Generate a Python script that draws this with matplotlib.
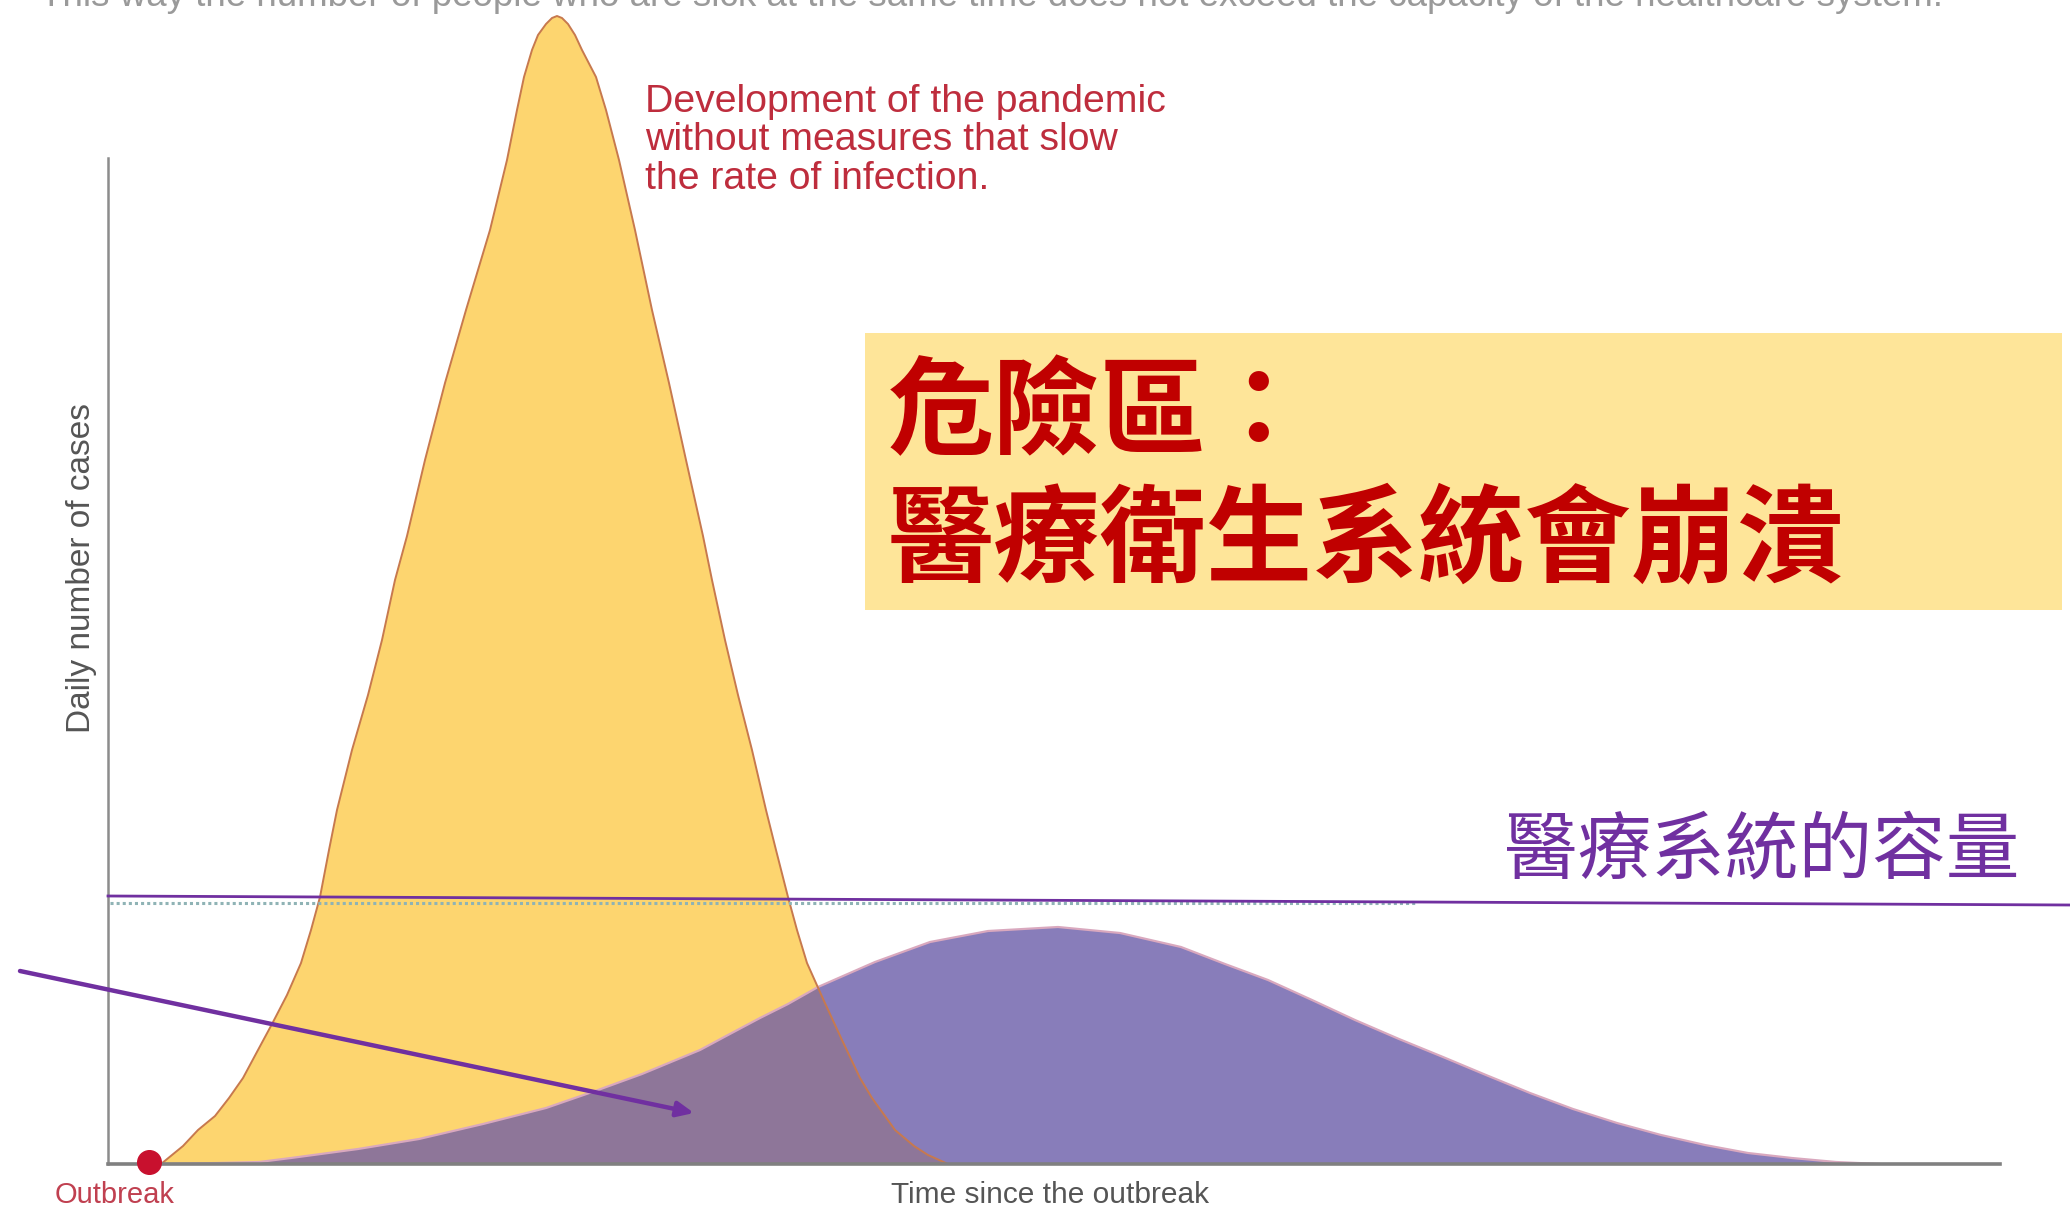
import matplotlib
matplotlib.use("Agg")
import matplotlib.pyplot as plt
from matplotlib.patches import Rectangle

# ---------------- data (arbitrary time units / daily cases units) ----------------
# unmitigated epidemic curve
fast_t = [53, 64, 75, 90, 107, 121, 135, 150, 164, 179, 193, 203, 212, 221, 229, 244,
          260, 274, 287, 299, 317, 337, 358, 382, 399, 409, 416, 424, 430, 438, 444, 449,
          454, 460, 467, 474, 488, 498, 511, 527, 544, 561, 578, 595, 604, 617, 630, 644,
          658, 668, 680, 689, 699, 716, 734, 752, 764, 777, 787, 806, 820, 840]
fast_v = [0, 9, 18, 34, 48, 66, 86, 114, 140, 169, 201, 234, 267, 314, 354, 414,
          469, 524, 584, 628, 704, 781, 854, 934, 1004, 1054, 1087, 1114, 1129, 1140, 1146, 1148,
          1146, 1140, 1129, 1114, 1087, 1054, 1004, 934, 854, 781, 704, 628, 584, 524, 469, 414,
          354, 314, 267, 234, 201, 163, 124, 86, 66, 48, 34, 18, 9, 0]
# flattened curve
slow_t = [56, 110, 151, 183, 250, 311, 375, 438, 490, 534, 592, 620, 652, 680, 710, 767,
          822, 880, 950, 1012, 1073, 1117, 1160, 1204, 1247, 1291, 1335, 1378, 1422, 1465,
          1509, 1553, 1597, 1640, 1684, 1728, 1772]
slow_v = [0, 1, 2, 6, 15, 25, 40, 56, 74, 90, 114, 129, 146, 160, 177, 202,
          222, 233, 237, 231, 217, 200, 184, 164, 144, 125, 107, 89, 71, 55,
          41, 29, 19, 11, 6, 2, 0]
# healthcare capacity line (start, end)
capacity_t = [0, 1962]
capacity_v = [268, 259]
dotted_t = [2, 1308]
dotted_v = [261, 261]
outbreak_t, outbreak_v = 41, 2
axis_top = 1006
time_end = 1892

top_text = ("This way the number of people who are sick at the same time does not "
            "exceed the capacity of the healthcare system.")
note_lines = ["Development of the pandemic", "without measures that slow",
              "the rate of infection."]
danger_lines = ["危險區：", "醫療衛生系統會崩潰"]
capacity_label = "醫療系統的容量"

# ---------------- styles ----------------
W, H = 2070, 1211
YELLOW = "#FDD56F"
YELLOW_EDGE = "#C7794E"
PURPLE = "#887DBA"
OVERLAP = "#8E7699"
LINE_PURPLE = "#7030A0"
DARK_RED = "#C00000"
NOTE_RED = "#BE2D3D"
GREY_TXT = "#555555"

def fx(px):
    return px / W

def fy(py):
    return 1 - py / H

fig = plt.figure(figsize=(W / 100, H / 100), dpi=100)
fig.patch.set_facecolor("white")
ax = fig.add_axes([fx(108), fy(1164), fx(W - 108), 1164 / H])
ax.set_xlim(0, 1962)
ax.set_ylim(0, 1164)
ax.axis("off")

# curves
yellow_patch = ax.fill(fast_t, fast_v, color=YELLOW, lw=0, zorder=2)[0]
ax.fill(slow_t, slow_v, color=PURPLE, lw=0, zorder=3)
ov = ax.fill(slow_t, slow_v, color=OVERLAP, lw=0, zorder=4)[0]
ov.set_clip_path(yellow_patch)
ax.plot(slow_t, slow_v, color="#D9A8BE", lw=1.6, zorder=5, solid_joinstyle="round")
ax.plot(fast_t, fast_v, color=YELLOW_EDGE, lw=1.4, zorder=6, solid_joinstyle="round")

# axes lines
ax.plot([0, 0], [0, axis_top], color="#8C8C8C", lw=1.8, zorder=7, clip_on=False)
ax.plot([0, time_end], [0, 0], color="#808080", lw=2.6, zorder=7, clip_on=False)

# capacity lines
ax.plot(dotted_t, dotted_v, color="#8FB3B5", lw=2.2, ls=(0, (1, 1)), zorder=7)
ax.plot(capacity_t, capacity_v, color=LINE_PURPLE, lw=2.0, zorder=8, clip_on=False)

# outbreak marker
ax.plot([outbreak_t], [outbreak_v], "o", ms=17, color="#C8102E", mec="#C8102E",
        zorder=9, clip_on=False)

# top cut-off text (cut at the top edge, as in the reference)
fig.text(fx(40), fy(6), top_text, fontsize=26.5, color="#9A9A9A",
         family="Liberation Sans", ha="left", va="baseline")

# annotation text
for i, line in enumerate(note_lines):
    fig.text(fx(645), fy(112 + 38.5 * i), line, fontsize=28.3, color=NOTE_RED,
             family="Liberation Sans", ha="left", va="baseline")

# danger box
fig.patches.append(Rectangle((fx(865), fy(610)), fx(2062) - fx(865), fy(333) - fy(610),
                             transform=fig.transFigure, facecolor="#FEE599",
                             edgecolor="none", zorder=1))
cjk = ["Noto Sans CJK TC", "DejaVu Sans"]
fig.text(fx(888), fy(415), danger_lines[0], fontsize=76.5, color=DARK_RED,
         family=cjk, weight="bold", ha="left", va="center", zorder=3)
fig.text(fx(888), fy(542), danger_lines[1], fontsize=76.5, color=DARK_RED,
         family=cjk, weight="bold", ha="left", va="center", zorder=3)

# capacity label
fig.text(fx(1762), fy(852), capacity_label, fontsize=53, color=LINE_PURPLE,
         family=cjk, ha="center", va="center")

# arrow
ax.annotate("", xy=(fx(694), fy(1113)), xycoords="figure fraction",
            xytext=(fx(20), fy(971)), textcoords="figure fraction",
            arrowprops=dict(arrowstyle="-|>,head_length=1.0,head_width=0.45",
                            color=LINE_PURPLE, lw=3.2, shrinkA=0, shrinkB=0),
            zorder=10, annotation_clip=False)

# axis labels
fig.text(fx(115), fy(1195), "Outbreak", fontsize=21, color="#C04050",
         family="Liberation Sans", ha="center", va="center")
fig.text(fx(1050), fy(1195), "Time since the outbreak", fontsize=21.5, color=GREY_TXT,
         family="Liberation Sans", ha="center", va="center")
fig.text(fx(82), fy(568), "Daily number of cases", fontsize=24, color=GREY_TXT,
         family="Liberation Sans", ha="center", va="center", rotation=90)

fig.savefig("out.png", dpi=100, facecolor="white")
